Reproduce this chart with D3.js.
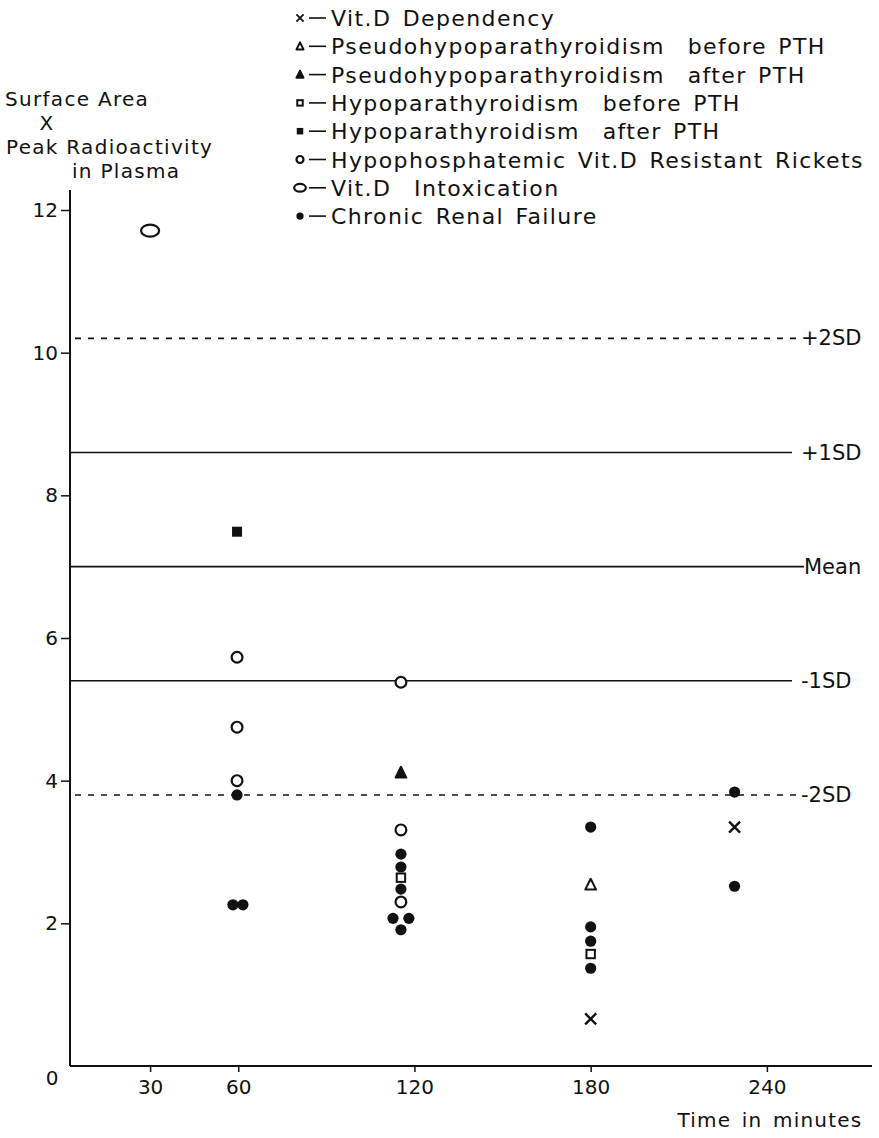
<!DOCTYPE html>
<html><head><meta charset="utf-8">
<script src="https://cdn.jsdelivr.net/npm/d3@7"></script>
<style>
body{margin:0;background:#fff}
text{font-family:"DejaVu Sans",sans-serif;fill:#111}
</style>
</head><body>
<svg id="c" width="879" height="1138"></svg>
<script>
// ---- data ----
const xTicks = [30, 60, 120, 180, 240];
const yTicks = [2, 4, 6, 8, 10, 12];
const refValues = [10.2, 8.6, 7.0, 5.4, 3.8];
const refLabels = ["+2SD", "+1SD", "Mean", "-1SD", "-2SD"];
const refDashed = [true, false, false, false, true];

const legendKeys = ["dep", "pseBefore", "pseAfter", "hypBefore", "hypAfter", "hypophos", "intox", "renal"];
const legendLabels = [
  "Vit.D Dependency",
  "Pseudohypoparathyroidism  before PTH",
  "Pseudohypoparathyroidism  after PTH",
  "Hypoparathyroidism  before PTH",
  "Hypoparathyroidism  after PTH",
  "Hypophosphatemic Vit.D Resistant Rickets",
  "Vit.D  Intoxication",
  "Chronic Renal Failure"
];

// [time in minutes, value]
const vitDDependency = [[180, 0.66], [229, 3.35]];
const pseudoBefore   = [[180, 2.54]];
const pseudoAfter    = [[115.4, 4.11]];
const hypoparaBefore = [[115.4, 2.64], [180, 1.57]];
const hypoparaAfter  = [[59.6, 7.49]];
const hypophosphatemic = [[59.6, 5.73], [59.6, 4.75], [59.6, 4.0], [115.4, 5.38], [115.4, 3.31], [115.4, 2.30]];
const vitDIntoxication = [[30, 11.71]];
const renalFailure = [[59.6, 3.8], [58.2, 2.26], [61.6, 2.26],
  [115.4, 2.97], [115.4, 2.79], [115.4, 2.48], [112.7, 2.07], [118.1, 2.07], [115.4, 1.91],
  [180, 3.35], [180, 1.95], [180, 1.75], [180, 1.37],
  [229, 3.84], [229, 2.52]];

const seriesData = {
  dep: vitDDependency, pseBefore: pseudoBefore, pseAfter: pseudoAfter,
  hypBefore: hypoparaBefore, hypAfter: hypoparaAfter, hypophos: hypophosphatemic,
  intox: vitDIntoxication, renal: renalFailure
};

// ---- layout ----
const svg = d3.select("#c");
const x = d3.scaleLinear().domain([0, 270]).range([62, 855]);
const y = d3.scaleLinear().domain([0, 12]).range([1066, 210]);
const axisX = 70;
const ink = "#111";

function drawMarker(g, key, s) {
  if (key === "dep") {
    const h = 5.5 * s;
    g.append("path").attr("d", `M${-h},${-h}L${h},${h}M${-h},${h}L${h},${-h}`)
      .attr("stroke", ink).attr("stroke-width", 2.4 * Math.max(s, 0.75)).attr("fill", "none");
  } else if (key === "pseBefore" || key === "pseAfter") {
    const h = 6 * s;
    g.append("path").attr("d", `M0,${-h}L${h * 0.9},${h * 0.8}L${-h * 0.9},${h * 0.8}Z`)
      .attr("stroke", ink).attr("stroke-width", 2)
      .attr("fill", key === "pseAfter" ? ink : "#fff").attr("stroke-linejoin", "round");
  } else if (key === "hypBefore") {
    const h = 4.2 * s;
    g.append("rect").attr("x", -h).attr("y", -h).attr("width", 2 * h).attr("height", 2 * h)
      .attr("stroke", ink).attr("stroke-width", 2).attr("fill", "#fff");
  } else if (key === "hypAfter") {
    const h = 5 * s;
    g.append("rect").attr("x", -h).attr("y", -h).attr("width", 2 * h).attr("height", 2 * h)
      .attr("fill", ink);
  } else if (key === "hypophos") {
    g.append("circle").attr("r", 5.4 * s).attr("stroke", ink).attr("stroke-width", 2.2).attr("fill", "#fff");
  } else if (key === "intox") {
    g.append("ellipse").attr("rx", 9 * s).attr("ry", 6 * s).attr("stroke", ink).attr("stroke-width", 2.2).attr("fill", "none");
  } else if (key === "renal") {
    g.append("circle").attr("r", 5.6 * s).attr("fill", ink);
  }
}

// y axis
svg.append("line").attr("x1", axisX).attr("x2", axisX).attr("y1", 190).attr("y2", y(0))
  .attr("stroke", ink).attr("stroke-width", 2);
const yAxis = svg.append("g").attr("transform", `translate(${axisX},0)`)
  .call(d3.axisLeft(y).tickValues(yTicks).tickSize(9).tickPadding(3).tickFormat(d3.format("d")));
yAxis.select(".domain").remove();
yAxis.selectAll("line").attr("stroke", ink).attr("stroke-width", 1.5);
yAxis.selectAll("text").style("font-size", "20px").style("font-family", "DejaVu Sans");

// x axis
svg.append("line").attr("x1", axisX).attr("x2", 872).attr("y1", y(0)).attr("y2", y(0))
  .attr("stroke", ink).attr("stroke-width", 2.2);
const xAxis = svg.append("g").attr("transform", `translate(0,${y(0)})`)
  .call(d3.axisBottom(x).tickValues(xTicks).tickSize(6).tickPadding(8).tickFormat(d3.format("d")));
xAxis.select(".domain").remove();
xAxis.selectAll("line").attr("stroke", ink).attr("stroke-width", 1.5);
xAxis.selectAll("text").style("font-size", "20px").style("font-family", "DejaVu Sans");

svg.append("text").attr("x", 52).attr("y", y(0) + 19).attr("text-anchor", "middle")
  .style("font-size", "20px").text("0");
svg.append("text").attr("x", 770).attr("y", 1127).attr("text-anchor", "middle")
  .style("font-size", "20px").style("letter-spacing", "1.2px").style("word-spacing", "3px").text("Time in minutes");

// y-axis title
const titleLines = [["Surface Area", 5, 106, "start"], ["X", 47, 130, "middle"], ["Peak Radioactivity", 6, 154, "start"], ["in Plasma", 72, 178, "start"]];
titleLines.forEach(t => {
  svg.append("text").attr("x", t[1]).attr("y", t[2]).attr("text-anchor", t[3])
    .style("font-size", "20px").style("letter-spacing", "1.3px").text(t[0]);
});

// reference lines
refValues.forEach((v, i) => {
  const dashed = refDashed[i];
  svg.append("line").attr("x1", dashed ? axisX + 5 : axisX).attr("x2", dashed ? 800 : (i === 2 ? 804 : 792))
    .attr("y1", y(v)).attr("y2", y(v))
    .attr("stroke", ink).attr("stroke-width", 1.6)
    .attr("stroke-dasharray", dashed ? "6,7" : null);
  svg.append("text").attr("x", i === 2 ? 804 : 801).attr("y", y(v) + 7)
    .style("font-size", "21px").text(refLabels[i]);
});

// points
legendKeys.forEach(k => {
  seriesData[k].forEach(d => {
    const g = svg.append("g").attr("transform", `translate(${x(d[0])},${y(d[1])})`);
    drawMarker(g, k, 1);
  });
});

// legend
const lgX = 300, lgY0 = 18, lgDy = 28.3;
legendKeys.forEach((k, i) => {
  const cy = lgY0 + i * lgDy;
  const g = svg.append("g").attr("transform", `translate(${lgX},${cy})`);
  drawMarker(g, k, 0.65);
  svg.append("line").attr("x1", lgX + 9).attr("x2", lgX + 26).attr("y1", cy).attr("y2", cy)
    .attr("stroke", ink).attr("stroke-width", 1.6);
  svg.append("text").attr("x", lgX + 31).attr("y", cy + 8)
    .style("font-size", "22px").style("letter-spacing", "1.4px").style("word-spacing", "3px")
    .attr("xml:space", "preserve").style("white-space", "pre").text(legendLabels[i]);
});
</script>
</body></html>
